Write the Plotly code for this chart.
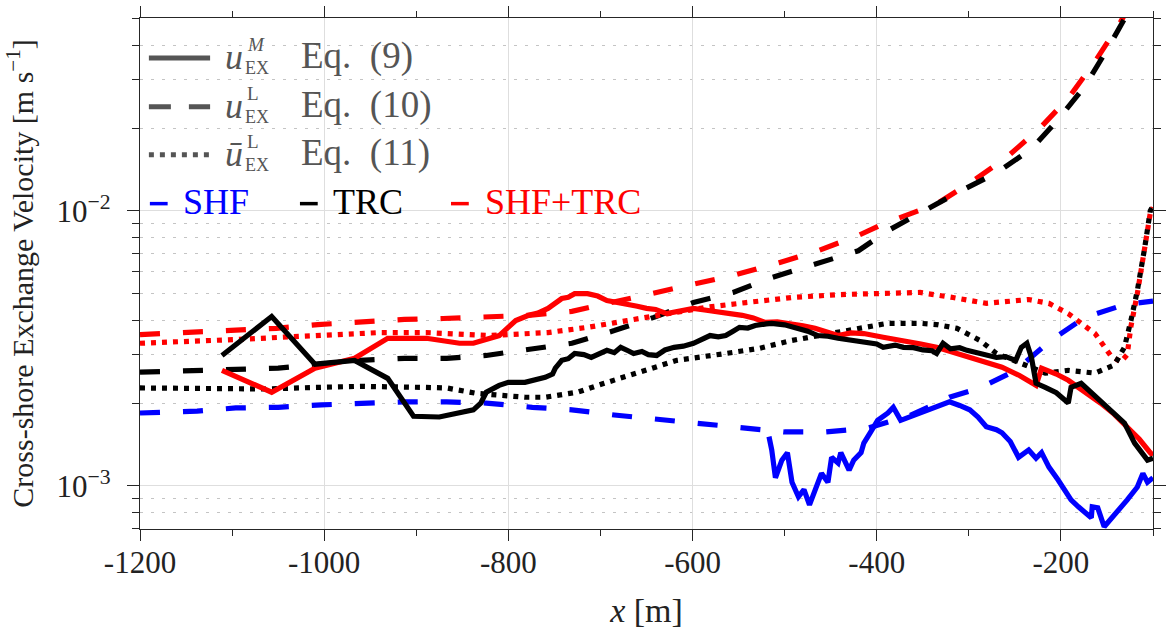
import plotly.graph_objects as go

# ---------------- data ----------------
# SHF, u_EX^L (Eq. 10) - blue dashed
x_shf_L = [-1200, -1138, -1096, -1050, -1003, -961, -913, -867, -824, -774, -731, -685, -639, -592,
           -546, -500, -457, -410, -364, -321, -288, -249, -211, -174, -130, -109, -100]
u_shf_L = [0.00184, 0.00187, 0.00192, 0.00193, 0.00197, 0.00200, 0.00202, 0.00202, 0.00200, 0.00193,
           0.00189, 0.00181, 0.00175, 0.00168, 0.00162, 0.00157, 0.00157, 0.00162, 0.00180, 0.00210,
           0.00227, 0.00263, 0.00338, 0.00410, 0.00457, 0.00464, 0.00470]

# TRC, u_EX^L - black dashed
x_trc_L = [-1200, -1143, -1096, -1050, -1003, -961, -913, -867, -824, -774, -731, -685, -642, -599,
           -556, -514, -467, -420, -388, -353, -313, -270, -232, -203, -174, -149, -138, -124, -110]
u_trc_L = [0.00259, 0.00263, 0.00266, 0.00268, 0.00277, 0.00286, 0.00291, 0.00291, 0.00298, 0.00316,
           0.00330, 0.00367, 0.00410, 0.00464, 0.00505, 0.00572, 0.00643, 0.00716, 0.00847, 0.00984,
           0.01162, 0.01374, 0.0168, 0.0215, 0.0284, 0.0390, 0.0449, 0.055, 0.070]

# SHF+TRC, u_EX^L - red dashed
x_all_L = [-1200, -1153, -1106, -1052, -1007, -961, -913, -871, -821, -778, -731, -688, -642, -596,
           -553, -506, -464, -421, -393, -335, -299, -260, -224, -192, -163, -135, -120]
u_all_L = [0.00355, 0.00361, 0.00370, 0.00374, 0.00386, 0.00396, 0.00403, 0.00406, 0.00410, 0.00417,
           0.00431, 0.00464, 0.00500, 0.00540, 0.00586, 0.00648, 0.00716, 0.00811, 0.00897, 0.01060,
           0.01262, 0.01556, 0.0198, 0.0257, 0.0349, 0.0488, 0.060]

# TRC, u_EX^L bar (Eq. 11) - black dotted
x_trc_B = [-1200, -1103, -1060, -1010, -961, -889, -867, -835, -782, -760, -725, -696, -653, -617,
           -564, -528, -492, -442, -388, -353, -335, -313, -288, -270, -246, -217, -192, -163, -142,
           -131, -124, -117, -109, -103, -100]
u_trc_B = [0.00227, 0.00227, 0.00225, 0.00228, 0.00230, 0.00228, 0.00227, 0.00217, 0.00210, 0.00210,
           0.00219, 0.00236, 0.00263, 0.00286, 0.00303, 0.00316, 0.00338, 0.00361, 0.00390, 0.00390,
           0.00386, 0.00374, 0.00338, 0.00303, 0.00281, 0.00257, 0.00263, 0.00257, 0.00275, 0.00319,
           0.00399, 0.00513, 0.00734, 0.0100, 0.01043]

# SHF+TRC, u_EX^L bar - red dotted
x_all_B = [-1200, -1138, -1092, -1046, -996, -939, -889, -821, -757, -714, -671, -628, -585, -542,
           -492, -442, -388, -353, -317, -281, -235, -213, -192, -163, -146, -135, -128, -124, -117,
           -109, -103, -100]
u_all_B = [0.00330, 0.00335, 0.00341, 0.00347, 0.00355, 0.00361, 0.00361, 0.00352, 0.00361, 0.00377,
           0.00399, 0.00423, 0.00446, 0.00464, 0.00484, 0.00496, 0.00500, 0.00505, 0.00484, 0.00461,
           0.00476, 0.00461, 0.00423, 0.00358, 0.00298, 0.00282, 0.00300, 0.00380, 0.00500, 0.00720,
           0.00980, 0.01030]

# SHF, u_EX^M (Eq. 9) - blue solid
x_shf_M = [-517, -514, -510, -503, -497, -492, -485, -479, -473, -467, -460, -453, -449, -442, -439,
           -430, -425, -417, -414, -407, -399, -388, -382, -374, -364, -353, -340, -321, -310, -299,
           -290, -281, -270, -264, -255, -246, -235, -227, -221, -213, -203, -195, -189, -181, -174,
           -167, -166, -160, -153, -145, -138, -128, -117, -111, -106, -100]
u_shf_M = [0.00151, 0.00135, 0.00107, 0.00124, 0.00132, 0.00103, 0.000913, 0.000968, 0.000853,
           0.000952, 0.00111, 0.00103, 0.00127, 0.00121, 0.00132, 0.00114, 0.00124, 0.00132, 0.00143,
           0.00156, 0.00173, 0.00184, 0.00193, 0.00173, 0.00178, 0.00184, 0.00190, 0.00202, 0.00196,
           0.00189, 0.00178, 0.00164, 0.00160, 0.00156, 0.00145, 0.00127, 0.00135, 0.00126, 0.00132,
           0.00117, 0.00105, 0.000952, 0.000889, 0.000839, 0.000800, 0.000765, 0.000839, 0.000832,
           0.000710, 0.000760, 0.000818, 0.000889, 0.000990, 0.00111, 0.00103, 0.00107]

# TRC, u_EX^M - black solid
x_trc_M = [-1111, -1057, -1010, -967, -931, -903, -875, -838, -830, -824, -810, -800, -782, -770,
           -760, -752, -749, -742, -735, -728, -718, -710, -700, -693, -685, -678, -670, -664, -655,
           -648, -639, -630, -620, -610, -599, -590, -581, -572, -564, -556, -549, -540, -532, -520,
           -514, -500, -485, -475, -464, -453, -442, -430, -414, -400, -393, -380, -371, -360, -350,
           -340, -335, -328, -320, -310, -302, -290, -280, -270, -260, -249, -243, -237, -232, -227,
           -217, -205, -192, -189, -178, -168, -157, -145, -131, -120, -106, -100]
u_trc_M = [0.00298, 0.00413, 0.00277, 0.00286, 0.00246, 0.00179, 0.00178, 0.00189, 0.00200, 0.00219,
           0.00232, 0.00238, 0.00238, 0.00242, 0.00248, 0.00255, 0.00268, 0.00286, 0.00290, 0.00303,
           0.00300, 0.00293, 0.00305, 0.00311, 0.00305, 0.00319, 0.00310, 0.00303, 0.00308, 0.00300,
           0.00298, 0.00312, 0.00319, 0.00322, 0.00330, 0.00340, 0.00352, 0.00348, 0.00352, 0.00365,
           0.00377, 0.00375, 0.00383, 0.00388, 0.00390, 0.00385, 0.00374, 0.00365, 0.00352, 0.00350,
           0.00344, 0.00340, 0.00332, 0.00328, 0.00319, 0.00325, 0.00319, 0.00318, 0.00312, 0.00310,
           0.00303, 0.00330, 0.00315, 0.00318, 0.00311, 0.00305, 0.00300, 0.00293, 0.00295, 0.00286,
           0.00319, 0.00330, 0.00293, 0.00236, 0.00228, 0.00218, 0.00200, 0.00228, 0.00236, 0.00220,
           0.00205, 0.00188, 0.00169, 0.00143, 0.00124, 0.00126]

# SHF+TRC, u_EX^M - red solid
x_all_M = [-1111, -1057, -1010, -967, -931, -889, -853, -838, -810, -792, -778, -768, -757, -742,
           -735, -728, -714, -703, -693, -680, -671, -660, -650, -640, -628, -613, -599, -585, -567,
           -546, -534, -521, -508, -495, -480, -467, -455, -442, -428, -414, -393, -371, -352, -335,
           -317, -299, -282, -264, -245, -227, -221, -205, -192, -175, -157, -142, -128, -115, -103,
           -100]
u_all_M = [0.00263, 0.00219, 0.00268, 0.00291, 0.00344, 0.00344, 0.00330, 0.00330, 0.00352, 0.00399,
           0.00417, 0.00425, 0.00442, 0.00480, 0.00485, 0.00500, 0.00500, 0.00490, 0.00472, 0.00465,
           0.00457, 0.00450, 0.00442, 0.00438, 0.00423, 0.00435, 0.00442, 0.00435, 0.00427, 0.00417,
           0.00408, 0.00393, 0.00395, 0.00390, 0.00382, 0.00374, 0.00362, 0.00352, 0.00360, 0.00358,
           0.00347, 0.00338, 0.00328, 0.00319, 0.00305, 0.00293, 0.00282, 0.00270, 0.00252, 0.00232,
           0.00268, 0.00255, 0.00242, 0.00222, 0.00200, 0.00182, 0.00164, 0.00148, 0.00132, 0.00129]

x_ticks = [-1200, -1000, -800, -600, -400, -200]
x_ticktext = ["-1200", "-1000", "-800", "-600", "-400", "-200"]
y_ticks = [1e-3, 1e-2]
y_ticktext = ["10<sup>\u22123</sup>", "10<sup>\u22122</sup>"]

# ---------------- styling ----------------
FONT = "Liberation Serif"
BLUE, BLACK, RED, GRAY = "#0000ff", "#000000", "#ff0000", "#555555"
DASH = "20px,23px"
DOT = "5px,6px"
LW = 5.2

fig = go.Figure()

def add(x, y, color, dash):
    fig.add_trace(go.Scatter(x=x, y=y, mode="lines", showlegend=False, hoverinfo="skip",
                             line=dict(color=color, width=LW, dash=dash)))

add(x_shf_L, u_shf_L, BLUE, DASH)
add(x_all_L, u_all_L, RED, DASH)
add(x_trc_L, u_trc_L, BLACK, DASH)
add(x_all_B, u_all_B, RED, DOT)
add(x_trc_B, u_trc_B, BLACK, DOT)
add(x_shf_M, u_shf_M, BLUE, "solid")
add(x_all_M, u_all_M, RED, "solid")
add(x_trc_M, u_trc_M, BLACK, "solid")

# plot area in pixels
L, R, T, B = 140, 1166, 17, 529
W, H = 1172, 636

def P(px, py):
    return (px - L) / (R - L), (B - py) / (B - T)

minor_y = [v * 10.0 ** e for e in (-4, -3, -2) for v in range(2, 10)]

fig.update_layout(
    width=W, height=H,
    margin=dict(l=L, r=W - R, t=T, b=H - B),
    paper_bgcolor="white", plot_bgcolor="white",
    font=dict(family=FONT, color="#222222"),
    xaxis=dict(
        range=[-1200, -100], tickvals=x_ticks, ticktext=x_ticktext,
        showline=True, linecolor="#262626", linewidth=1.3, mirror="allticks",
        ticks="outside", ticklen=11, tickwidth=1.3, tickcolor="#262626",
        showgrid=True, gridcolor="#dedede", gridwidth=1, zeroline=False,
        tickfont=dict(family=FONT, size=31, color="#222222"),
        ticklabelstandoff=-5,
        minor=dict(dtick=100, tick0=-1200, ticks="outside", ticklen=6, tickwidth=1.3,
                   tickcolor="#262626", showgrid=False),
        title=dict(text="<i>x</i> [m]", font=dict(family=FONT, size=34, color="#222222"), standoff=18),
    ),
    yaxis=dict(
        type="log", range=[-3.157, -1.2985], tickvals=y_ticks, ticktext=y_ticktext,
        showline=True, linecolor="#262626", linewidth=1.3, mirror="allticks",
        ticks="outside", ticklen=12, tickwidth=1.3, tickcolor="#262626",
        showgrid=True, gridcolor="#dedede", gridwidth=1, zeroline=False,
        tickfont=dict(family=FONT, size=31, color="#222222"),
        ticklabelstandoff=10,
        minor=dict(tickvals=minor_y, ticks="outside", ticklen=7, tickwidth=1.3,
                   tickcolor="#262626", showgrid=True, gridcolor="#c4c4c4", gridwidth=1,
                   griddash="3px,8px"),
        title=dict(text="Cross-shore Exchange Velocity [m s<sup>\u22121</sup>]",
                   font=dict(family=FONT, size=30, color="#222222"), standoff=14),
    ),
)

# ---------------- custom legend ----------------
shapes = []
anns = []
rows = [(57, "solid", "<i>M</i>", "<i>u</i>", "Eq.\u00a0\u00a0(9)"),
        (106, "22px,18px", "L", "<i>u</i>", "Eq.\u00a0\u00a0(10)"),
        (154, "5px,6px", "L", "<i>\u016b</i>", "Eq.\u00a0\u00a0(11)")]
for rc, dash, sup, base, eq in rows:
    x0, y0 = P(149, rc)
    x1, _ = P(211, rc)
    shapes.append(dict(type="line", xref="paper", yref="paper", x0=x0, x1=x1, y0=y0, y1=y0,
                       line=dict(color=GRAY, width=5, dash=dash)))
    for px, py, txt, size in [(224, rc - 1, base, 36), (246, rc - 13, sup, 19),
                              (244, rc + 10, "EX", 18), (301, rc - 2, eq, 37)]:
        ax, ay = P(px, py)
        anns.append(dict(xref="paper", yref="paper", x=ax, y=ay, text=txt, showarrow=False,
                         xanchor="left", yanchor="middle",
                         font=dict(family=FONT, size=size, color=GRAY)))

for bx, tx, txt, col in [(150, 182, "SHF", BLUE), (302, 333, "TRC", BLACK), (455, 487, "SHF+TRC", RED)]:
    x0, y0 = P(bx, 203)
    x1, _ = P(bx + 18, 203)
    shapes.append(dict(type="line", xref="paper", yref="paper", x0=x0, x1=x1, y0=y0, y1=y0,
                       line=dict(color=col, width=3.5)))
    ax, ay = P(tx, 201)
    anns.append(dict(xref="paper", yref="paper", x=ax, y=ay, text=txt, showarrow=False,
                     xanchor="left", yanchor="middle",
                     font=dict(family=FONT, size=36, color=col)))

fig.update_layout(shapes=shapes, annotations=anns)

fig.write_html("out.html")
